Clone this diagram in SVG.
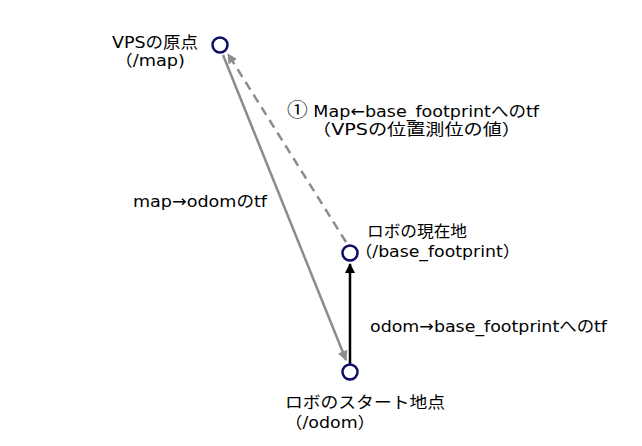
<svg xmlns="http://www.w3.org/2000/svg" width="642" height="446" viewBox="0 0 642 446">
<style>
text{font-family:"DejaVu Sans","Noto Sans CJK JP",sans-serif;font-size:16px;fill:#000}
.num{font-family:"Noto Sans CJK JP",sans-serif;font-size:19px}
.node{fill:#fff;stroke:#0d0d66;stroke-width:2.5}
</style>
<defs>
<marker id="ag" viewBox="0 0 10 10" refX="9" refY="5" markerWidth="4" markerHeight="4" orient="auto" markerUnits="strokeWidth"><path d="M0,0L10,5L0,10z" fill="#8c8c8c"/></marker>
<marker id="ab" viewBox="0 0 10 10" refX="9" refY="5" markerWidth="4" markerHeight="4" orient="auto" markerUnits="strokeWidth"><path d="M0,0L10,5L0,10z" fill="#000"/></marker>
</defs>
<rect width="642" height="446" fill="#fff"/>
<g id="connectors">
<line x1="223" y1="55" x2="346" y2="360" stroke="#8c8c8c" stroke-width="2.5" marker-end="url(#ag)"/>
<line x1="346" y1="242" x2="228" y2="54" stroke="#8c8c8c" stroke-width="2.5" stroke-dasharray="9,6" marker-end="url(#ag)"/>
<line x1="350" y1="364" x2="350" y2="264" stroke="#000" stroke-width="2.5" marker-end="url(#ab)"/>
</g>
<g id="vps-origin">
<circle class="node" cx="220" cy="45" r="7.5"/>
<text x="112" y="48" textLength="86" lengthAdjust="spacingAndGlyphs">VPSの原点</text>
<text x="115" y="66" textLength="70" lengthAdjust="spacingAndGlyphs">（/map)</text>
</g>
<g id="robot-current">
<circle class="node" cx="350" cy="253" r="7.5"/>
<text x="367" y="237" textLength="100" lengthAdjust="spacingAndGlyphs">ロボの現在地</text>
<text x="355" y="257" textLength="165" lengthAdjust="spacingAndGlyphs">（/base_footprint）</text>
</g>
<g id="robot-start">
<circle class="node" cx="350" cy="372" r="7.5"/>
<text x="285" y="408" textLength="160" lengthAdjust="spacingAndGlyphs">ロボのスタート地点</text>
<text x="285" y="428" textLength="90" lengthAdjust="spacingAndGlyphs">（/odom）</text>
</g>
<g id="labels">
<text x="287" y="117" textLength="252" lengthAdjust="spacingAndGlyphs"><tspan class="num">①</tspan> Map←base_footprintへのtf</text>
<text x="312" y="135" textLength="209" lengthAdjust="spacingAndGlyphs">（VPSの位置測位の値）</text>
<text x="133" y="207" textLength="134" lengthAdjust="spacingAndGlyphs">map→odomのtf</text>
<text x="370" y="332" textLength="237" lengthAdjust="spacingAndGlyphs">odom→base_footprintへのtf</text>
</g>
</svg>
